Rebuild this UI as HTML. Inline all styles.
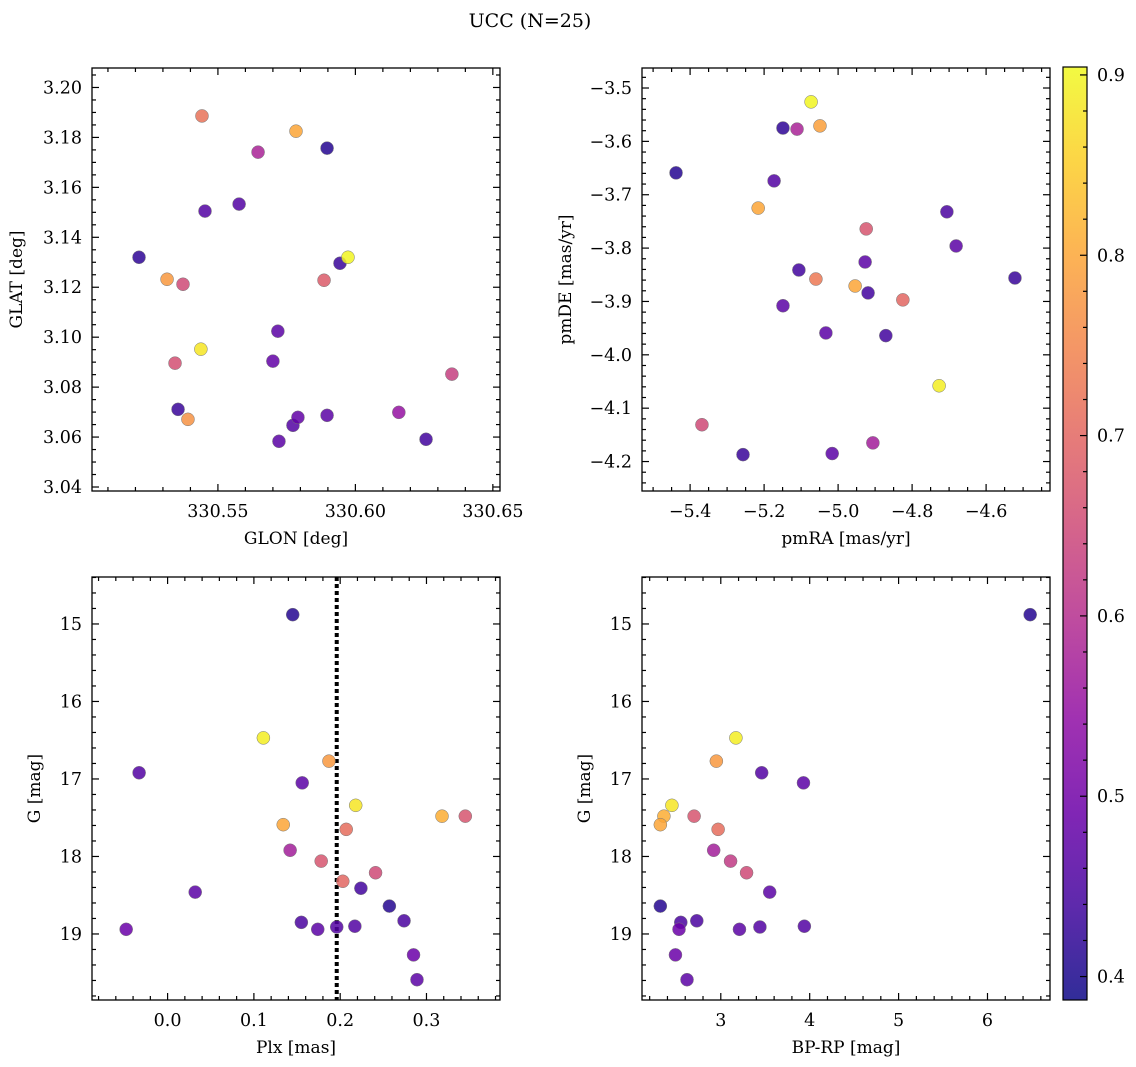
<!DOCTYPE html>
<html><head><meta charset="utf-8">
<style>
html,body{margin:0;padding:0;background:#fff;}
svg{display:block;font-family:"DejaVu Serif","Liberation Serif",serif;}
</style></head>
<body>
<svg id="fig" width="1136" height="1067" viewBox="0 0 1136 1067" xmlns="http://www.w3.org/2000/svg">
<text x="530" y="27" font-size="19" text-anchor="middle">UCC (N=25)</text>
</svg>
<script>
// ---- data: panel 1 (GLON vs GLAT)
const glon = [330.5213,330.5315,330.5373,330.5344,330.5355,330.5391,330.5438,330.5442,330.5453,330.5577,330.5646,330.5718,330.5700,330.5722,330.5773,330.5791,330.5784,330.5897,330.5886,330.5944,330.5973,330.5897,330.6158,330.6257,330.6351];
const glat = [3.1320,3.1232,3.1212,3.0896,3.0711,3.0671,3.0952,3.1886,3.1505,3.1533,3.1741,3.1024,3.0904,3.0583,3.0647,3.0679,3.1825,3.1757,3.1228,3.1296,3.1320,3.0687,3.0699,3.0591,3.0852];
const prob1 = [0.42,0.78,0.65,0.66,0.43,0.77,0.88,0.72,0.46,0.46,0.58,0.47,0.48,0.47,0.46,0.48,0.80,0.41,0.68,0.43,0.90,0.47,0.55,0.44,0.63];
// ---- data: panel 2 (pmRA vs pmDE)
const pmra = [-5.438,-5.149,-5.111,-5.073,-5.049,-5.173,-5.216,-5.106,-5.060,-4.954,-4.924,-4.927,-4.919,-4.825,-5.149,-5.033,-4.871,-4.706,-4.681,-4.522,-4.727,-5.368,-5.257,-5.016,-4.906];
const pmde = [-3.659,-3.575,-3.577,-3.526,-3.571,-3.674,-3.725,-3.841,-3.858,-3.871,-3.764,-3.826,-3.884,-3.897,-3.908,-3.959,-3.964,-3.732,-3.796,-3.856,-4.058,-4.131,-4.187,-4.185,-4.165];
const prob2 = [0.41,0.42,0.58,0.90,0.79,0.46,0.80,0.44,0.73,0.80,0.67,0.47,0.44,0.70,0.47,0.47,0.44,0.45,0.47,0.43,0.89,0.65,0.43,0.47,0.57];
// ---- data: panel 3 (Plx vs G)
const plx = [0.145,0.111,-0.033,0.156,0.187,0.218,0.134,0.207,0.142,0.178,0.203,0.241,0.224,0.032,0.257,0.155,0.174,0.196,0.217,0.274,-0.048,0.285,0.289,0.318,0.345];
const gmag3 = [14.88,16.47,16.92,17.05,16.77,17.34,17.59,17.65,17.92,18.06,18.32,18.21,18.41,18.46,18.64,18.85,18.94,18.91,18.90,18.83,18.94,19.27,19.59,17.48,17.48];
const prob3 = [0.41,0.89,0.46,0.47,0.78,0.88,0.80,0.71,0.57,0.67,0.70,0.65,0.44,0.47,0.41,0.45,0.47,0.46,0.46,0.45,0.49,0.49,0.47,0.81,0.67];
const plxLine = 0.196;
// ---- data: panel 4 (BP-RP vs G)
const bprp = [6.48,3.17,2.95,3.46,3.93,2.45,2.36,2.70,2.32,2.97,2.92,3.11,3.29,3.55,2.32,2.55,2.73,2.53,3.21,3.44,3.94,2.49,2.62];
const gmag4 = [14.88,16.47,16.77,16.92,17.05,17.34,17.48,17.48,17.59,17.65,17.92,18.06,18.21,18.46,18.64,18.85,18.83,18.94,18.94,18.91,18.90,19.27,19.59];
const prob4 = [0.41,0.89,0.78,0.46,0.47,0.88,0.81,0.67,0.80,0.71,0.57,0.62,0.65,0.47,0.41,0.45,0.45,0.49,0.47,0.46,0.46,0.49,0.47];
// ---- tick labels
const ticks1x = [330.55,330.60,330.65];
const ticks1y = [3.04,3.06,3.08,3.10,3.12,3.14,3.16,3.18,3.20];
const ticks2x = [-5.4,-5.2,-5.0,-4.8,-4.6];
const ticks2y = [-4.2,-4.1,-4.0,-3.9,-3.8,-3.7,-3.6,-3.5];
const ticks3x = [0.0,0.1,0.2,0.3];
const ticksGy = [15,16,17,18,19];
const ticks4x = [3,4,5,6];
const ticksCb = [0.4,0.5,0.6,0.7,0.8,0.9];
const cbMin = 0.387, cbMax = 0.9044;

const NS = "http://www.w3.org/2000/svg";
const svg = document.getElementById('fig');
function mk(tag, attrs, parent){
  const e = document.createElementNS(NS, tag);
  for (const k in attrs) e.setAttribute(k, attrs[k]);
  (parent||svg).appendChild(e); return e;
}
const plasmaStops = [[0,"#0d0887"],[0.1,"#41049d"],[0.2,"#6a00a8"],[0.3,"#8f0da4"],[0.4,"#b12a90"],[0.5,"#cc4778"],[0.6,"#e16462"],[0.7,"#f2844b"],[0.8,"#fca636"],[0.9,"#fcce25"],[1,"#f0f921"]];
function hex(h){return [1,3,5].map(i=>parseInt(h.substr(i,2),16));}
function plasma(t){
  t=Math.max(0,Math.min(1,t));
  for(let i=0;i<plasmaStops.length-1;i++){
    const [a,ca]=plasmaStops[i],[b,cb]=plasmaStops[i+1];
    if(t<=b){const f=(t-a)/(b-a),A=hex(ca),B=hex(cb);
      return "rgb("+A.map((v,j)=>Math.round(v+(B[j]-v)*f)).join(",")+")";}
  }
  return "#f0f921";
}
function cnorm(v){return (v-cbMin)/(cbMax-cbMin);}
function fmt(v,d){const s=Math.abs(v).toFixed(d);return (v<0?"\u2212":"")+s;}

function panel(o){
  const g = mk('g',{});
  
  
  const sx = v => o.x0 + (v-o.xmin)/(o.xmax-o.xmin)*(o.x1-o.x0);
  const sy = o.invertY
    ? (v => o.y0 + (v-o.ymin)/(o.ymax-o.ymin)*(o.y1-o.y0))
    : (v => o.y0 + (o.ymax-v)/(o.ymax-o.ymin)*(o.y1-o.y0));
  const tk = mk('g',{stroke:"#000","stroke-width":1.2},g);
  
  
  const eps=1e-9;
  for(let v=Math.ceil(o.xmin/o.xminor-eps)*o.xminor; v<=o.xmax+eps; v+=o.xminor){
    const X=sx(v); const major = Math.abs(v/o.xmajor-Math.round(v/o.xmajor))<1e-4;
    const L = major?7:4;
    mk('line',{x1:X,x2:X,y1:o.y1,y2:o.y1-L},tk); mk('line',{x1:X,x2:X,y1:o.y0,y2:o.y0+L},tk);
  }
  for(let v=Math.ceil(o.ymin/o.yminor-eps)*o.yminor; v<=o.ymax+eps; v+=o.yminor){
    const Y=sy(v); const major = Math.abs(v/o.ymajor-Math.round(v/o.ymajor))<1e-4;
    const L = major?7:4;
    mk('line',{x1:o.x0,x2:o.x0+L,y1:Y,y2:Y},tk); mk('line',{x1:o.x1,x2:o.x1-L,y1:Y,y2:Y},tk);
  }
  o.xt.forEach(v=>{
    const t=mk('text',{x:sx(v),y:o.y1+26,"font-size":17.5,"text-anchor":"middle"},g);
    
    
    t.textContent=fmt(v,o.xd);
  });
  o.yt.forEach(v=>{
    const t=mk('text',{x:o.x0-10,y:sy(v)+6,"font-size":17.5,"text-anchor":"end"},g);
    
    
    t.textContent=fmt(v,o.yd);
  });
  const xl=mk('text',{x:(o.x0+o.x1)/2,y:o.y1+53,"font-size":17,"text-anchor":"middle"},g);
  
  
  xl.textContent=o.xlabel;
  const yx=o.ylx, yy=(o.y0+o.y1)/2;
  const yl=mk('text',{x:yx,y:yy,"font-size":17,"text-anchor":"middle",transform:`rotate(-90 ${yx} ${yy})`},g);
  
  
  yl.textContent=o.ylabel;
  if(o.vline!==undefined){
    const l=mk('line',{x1:sx(o.vline),x2:sx(o.vline),y1:o.y0,y2:o.y1,stroke:"#000","stroke-width":4,"stroke-dasharray":"4 3"},g);
    
    
  }
  const pts=mk('g',{},g);
  
  
  o.xs.forEach((xv,i)=>{
    const c=mk('circle',{cx:sx(xv),cy:sy(o.ys[i]),r:6.5,fill:plasma(cnorm(o.cs[i])),"fill-opacity":0.85,stroke:"#777","stroke-width":0.5},pts);
    
    
  });
  const fr=mk('rect',{x:o.x0,y:o.y0,width:o.x1-o.x0,height:o.y1-o.y0,fill:"none",stroke:"#000","stroke-width":1.3},g);
  
  
}

panel({name:"glon-glat-panel",x0:92,x1:500,y0:68,y1:491,xmin:330.5042,xmax:330.6526,ymin:3.0384,ymax:3.2078,
  xminor:0.01,xmajor:0.05,yminor:0.005,ymajor:0.02,xt:ticks1x,yt:ticks1y,xd:2,yd:2,
  xlabel:"GLON [deg]",ylabel:"GLAT [deg]",ylx:22,xs:glon,ys:glat,cs:prob1});
panel({name:"pm-panel",x0:642,x1:1050,y0:68,y1:491,xmin:-5.53,xmax:-4.4273,ymin:-4.2552,ymax:-3.4625,
  xminor:0.05,xmajor:0.2,yminor:0.02,ymajor:0.1,xt:ticks2x,yt:ticks2y,xd:1,yd:1,
  xlabel:"pmRA [mas/yr]",ylabel:"pmDE [mas/yr]",ylx:571,xs:pmra,ys:pmde,cs:prob2});
panel({name:"plx-g-panel",x0:92,x1:500,y0:577,y1:1000,xmin:-0.0876,xmax:0.3852,ymin:14.394,ymax:19.852,invertY:true,
  xminor:0.02,xmajor:0.1,yminor:0.2,ymajor:1,xt:ticks3x,yt:ticksGy,xd:1,yd:0,
  xlabel:"Plx [mas]",ylabel:"G [mag]",ylx:40,xs:plx,ys:gmag3,cs:prob3,vline:plxLine});
panel({name:"color-magnitude-panel",x0:642,x1:1050,y0:577,y1:1000,xmin:2.1137,xmax:6.7031,ymin:14.394,ymax:19.852,invertY:true,
  xminor:0.2,xmajor:1,yminor:0.2,ymajor:1,xt:ticks4x,yt:ticksGy,xd:0,yd:0,
  xlabel:"BP-RP [mag]",ylabel:"G [mag]",ylx:590,xs:bprp,ys:gmag4,cs:prob4});

// colorbar
(function(){
  const x0=1063,x1=1087,y0=67,y1=1000;
  const g=mk('g',{});
  
  
  const defs=mk('defs',{},g);
  const lg=mk('linearGradient',{id:"cbg",x1:0,y1:1,x2:0,y2:0},defs);
  for(let i=0;i<=20;i++){const t=i/20;mk('stop',{offset:t,"stop-color":plasma(t),"stop-opacity":0.85},lg);}
  const r=mk('rect',{x:x0,y:y0,width:x1-x0,height:y1-y0,fill:"url(#cbg)",stroke:"#000","stroke-width":1.2},g);
  
  
  const sy=v=>y1-(v-cbMin)/(cbMax-cbMin)*(y1-y0);
  for(let v=0.4;v<=cbMax+1e-9;v+=0.02){
    const major=Math.abs(v*10-Math.round(v*10))<1e-4;
    mk('line',{x1:x1,x2:x1-(major?7:4),y1:sy(v),y2:sy(v),stroke:"#000","stroke-width":1.2},g);
  }
  ticksCb.forEach(v=>{
    const t=mk('text',{x:x1+10,y:sy(v)+6,"font-size":17.5},g);
    
    
    t.textContent=v.toFixed(1);
  });
})();
</script>
</body></html>
